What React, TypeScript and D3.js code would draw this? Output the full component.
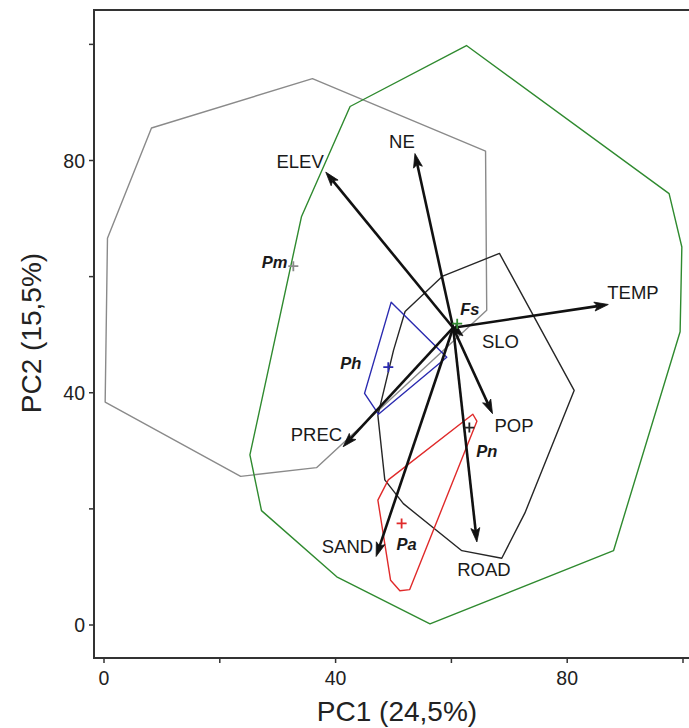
import React from "react";
import * as d3 from "d3";

// ---- Data (PC1, PC2 coordinates) ----
const groupNames = ["Pm", "Ph", "Fs", "Pn", "Pa"];
const centroidX = [32.7, 49.1, 61.0, 63.1, 51.4];
const centroidY = [61.8, 44.4, 51.9, 34.0, 17.5];

const hullPm: [number, number][] = [
  [8.2, 85.6], [36.0, 94.1], [65.9, 81.6], [66.1, 54.2], [36.7, 27.1], [23.6, 25.6], [0.2, 38.4], [0.6, 66.6],
];
const hullFs: [number, number][] = [
  [62.6, 99.8], [97.6, 74.3], [99.8, 65.1], [99.5, 50.5], [88.0, 12.8], [56.3, 0.2], [40.2, 8.3], [27.2, 19.7], [25.2, 29.3], [34.1, 70.3], [42.5, 89.3],
];
const hullPn: [number, number][] = [
  [68.3, 64.0], [81.2, 40.4], [72.7, 19.3], [68.7, 11.5], [61.8, 12.8], [51.7, 20.9], [48.5, 25.0], [47.3, 36.1], [50.0, 47.3], [52.0, 54.0], [58.5, 60.1],
];
const hullPh: [number, number][] = [
  [49.6, 55.6], [59.2, 46.1], [47.4, 36.3], [45.0, 39.9],
];
const hullPa: [number, number][] = [
  [63.7, 36.3], [64.4, 35.1], [52.8, 6.1], [51.1, 5.9], [49.5, 7.7], [47.3, 21.5], [49.1, 25.0],
];

const varNames = ["ELEV", "NE", "TEMP", "SLO", "POP", "ROAD", "SAND", "PREC"];
const varEndX = [38.3, 53.7, 87.1, 62.0, 67.1, 64.4, 47.0, 41.3];
const varEndY = [78.0, 81.2, 55.2, 49.8, 36.4, 14.3, 11.8, 30.7];
const arrowOrigin: [number, number] = [60.3, 51.2];

const xTicks = [0, 20, 40, 60, 80, 100];
const yTicks = [0, 20, 40, 60, 80, 100];
const tickLabels = [0, 40, 80];
const xTitle = "PC1 (24,5%)";
const yTitle = "PC2 (15,5%)";

// ---- Styling / layout ----
const W = 689, H = 728;
const frame = { left: 94, top: 10, right: 700, bottom: 658 };
const hullColors: Record<string, string> = { Pm: "#8a8a8a", Fs: "#2f8a2f", Pn: "#262626", Ph: "#2a2ab0", Pa: "#e02a2a" };
const markerColors: Record<string, string> = { Pm: "#8a8a8a", Fs: "#2f8a2f", Pn: "#262626", Ph: "#2a2ab0", Pa: "#e02a2a" };
// label offsets in px: [dx, dy, anchor]
const varLabelOffset: Record<string, [number, number, string]> = {
  ELEV: [-2, -11, "end"],
  NE: [-13, -12, "middle"],
  TEMP: [-1, -12, "start"],
  SLO: [19, 6, "start"],
  POP: [2, 12, "start"],
  ROAD: [7, 28, "middle"],
  SAND: [-3, -10, "end"],
  PREC: [-1, -12.5, "end"],
};
const groupLabelOffset: Record<string, [number, number, string]> = {
  Pm: [-6, -4, "end"],
  Ph: [-27, -4, "end"],
  Fs: [3, -15, "start"],
  Pn: [7, 23, "start"],
  Pa: [-5, 21, "start"],
};

const FONT = "'Liberation Sans', Arial, Helvetica, sans-serif";

export default function App() {
  const x = d3.scaleLinear().domain([0, 100]).range([104, 683]);
  const y = d3.scaleLinear().domain([0, 80]).range([625, 160.5]);
  const line = d3
    .line<[number, number]>()
    .x((d) => x(d[0]))
    .y((d) => y(d[1]))
    .curve(d3.curveLinearClosed);

  const hulls: [string, [number, number][]][] = [
    ["Pm", hullPm],
    ["Fs", hullFs],
    ["Pn", hullPn],
    ["Ph", hullPh],
    ["Pa", hullPa],
  ];

  const ox = x(arrowOrigin[0]);
  const oy = y(arrowOrigin[1]);
  const headLen = 14;
  const headHalf = 4.5;

  return (
    <svg
      width={W}
      height={H}
      style={{ position: "fixed", left: 0, top: 0, background: "#fff" }}
      fontFamily={FONT}
    >
      <rect x={0} y={0} width={W} height={H} fill="#fff" />
      {/* hulls */}
      {hulls.map(([g, pts]) => (
        <path key={g} d={line(pts) || ""} fill="none" stroke={hullColors[g]} strokeWidth={1.4} strokeLinejoin="round" />
      ))}

      {/* arrows */}
      {varNames.map((v, i) => {
        const tx = x(varEndX[i]);
        const ty = y(varEndY[i]);
        const dx = tx - ox;
        const dy = ty - oy;
        const len = Math.sqrt(dx * dx + dy * dy);
        const ux = dx / len;
        const uy = dy / len;
        const hl = Math.min(headLen, len);
        const bx = tx - ux * hl;
        const by = ty - uy * hl;
        const px = -uy, py = ux;
        const head = `M${tx},${ty}L${bx + px * headHalf},${by + py * headHalf}L${bx + ux * 3},${by + uy * 3}L${bx - px * headHalf},${by - py * headHalf}Z`;
        const off = varLabelOffset[v];
        return (
          <g key={v}>
            <line x1={ox} y1={oy} x2={bx + ux * 3} y2={by + uy * 3} stroke="#111" strokeWidth={2.6} />
            <path d={head} fill="#111" stroke="#111" strokeWidth={0.8} strokeLinejoin="miter" />
            <text
              x={tx + off[0]}
              y={ty + off[1]}
              textAnchor={off[2] as any}
              dominantBaseline="central"
              fontSize={18.5}
              fill="#1a1a1a"
            >
              {v}
            </text>
          </g>
        );
      })}

      {/* centroid markers */}
      {groupNames.map((g, i) => {
        const cx = x(centroidX[i]);
        const cy = y(centroidY[i]);
        const s = 5;
        const off = groupLabelOffset[g];
        return (
          <g key={g}>
            <path d={`M${cx - s},${cy}H${cx + s}M${cx},${cy - s}V${cy + s}`} stroke={markerColors[g]} strokeWidth={1.8} />
            <text
              x={cx + off[0]}
              y={cy + off[1]}
              textAnchor={off[2] as any}
              dominantBaseline="central"
              fontSize={16.5}
              fontWeight="bold"
              fontStyle="italic"
              fill="#1a1a1a"
            >
              {g}
            </text>
          </g>
        );
      })}

      {/* frame */}
      <path
        d={`M${frame.right},${frame.top}H${frame.left}V${frame.bottom}H${frame.right}`}
        fill="none"
        stroke="#333"
        strokeWidth={2}
      />

      {/* x ticks */}
      {xTicks.map((t) => (
        <line key={"xt" + t} x1={x(t)} x2={x(t)} y1={frame.bottom} y2={frame.bottom + 5} stroke="#333" strokeWidth={1.5} />
      ))}
      {tickLabels.map((t) => (
        <text key={"xl" + t} x={x(t)} y={frame.bottom + 20} textAnchor="middle" dominantBaseline="central" fontSize={19.5} fill="#222">
          {t}
        </text>
      ))}
      {/* y ticks */}
      {yTicks.map((t) => (
        <line key={"yt" + t} x1={frame.left} x2={frame.left - 5} y1={y(t)} y2={y(t)} stroke="#333" strokeWidth={1.5} />
      ))}
      {tickLabels.map((t) => (
        <text key={"yl" + t} x={frame.left - 9} y={y(t)} textAnchor="end" dominantBaseline="central" fontSize={19.5} fill="#222">
          {t}
        </text>
      ))}

      {/* axis titles */}
      <text x={397} y={711} textAnchor="middle" dominantBaseline="central" fontSize={28} fill="#222">
        {xTitle}
      </text>
      <text
        transform={`translate(31,333) rotate(-90)`}
        textAnchor="middle"
        dominantBaseline="central"
        fontSize={28}
        fill="#222"
      >
        {yTitle}
      </text>
    </svg>
  );
}
